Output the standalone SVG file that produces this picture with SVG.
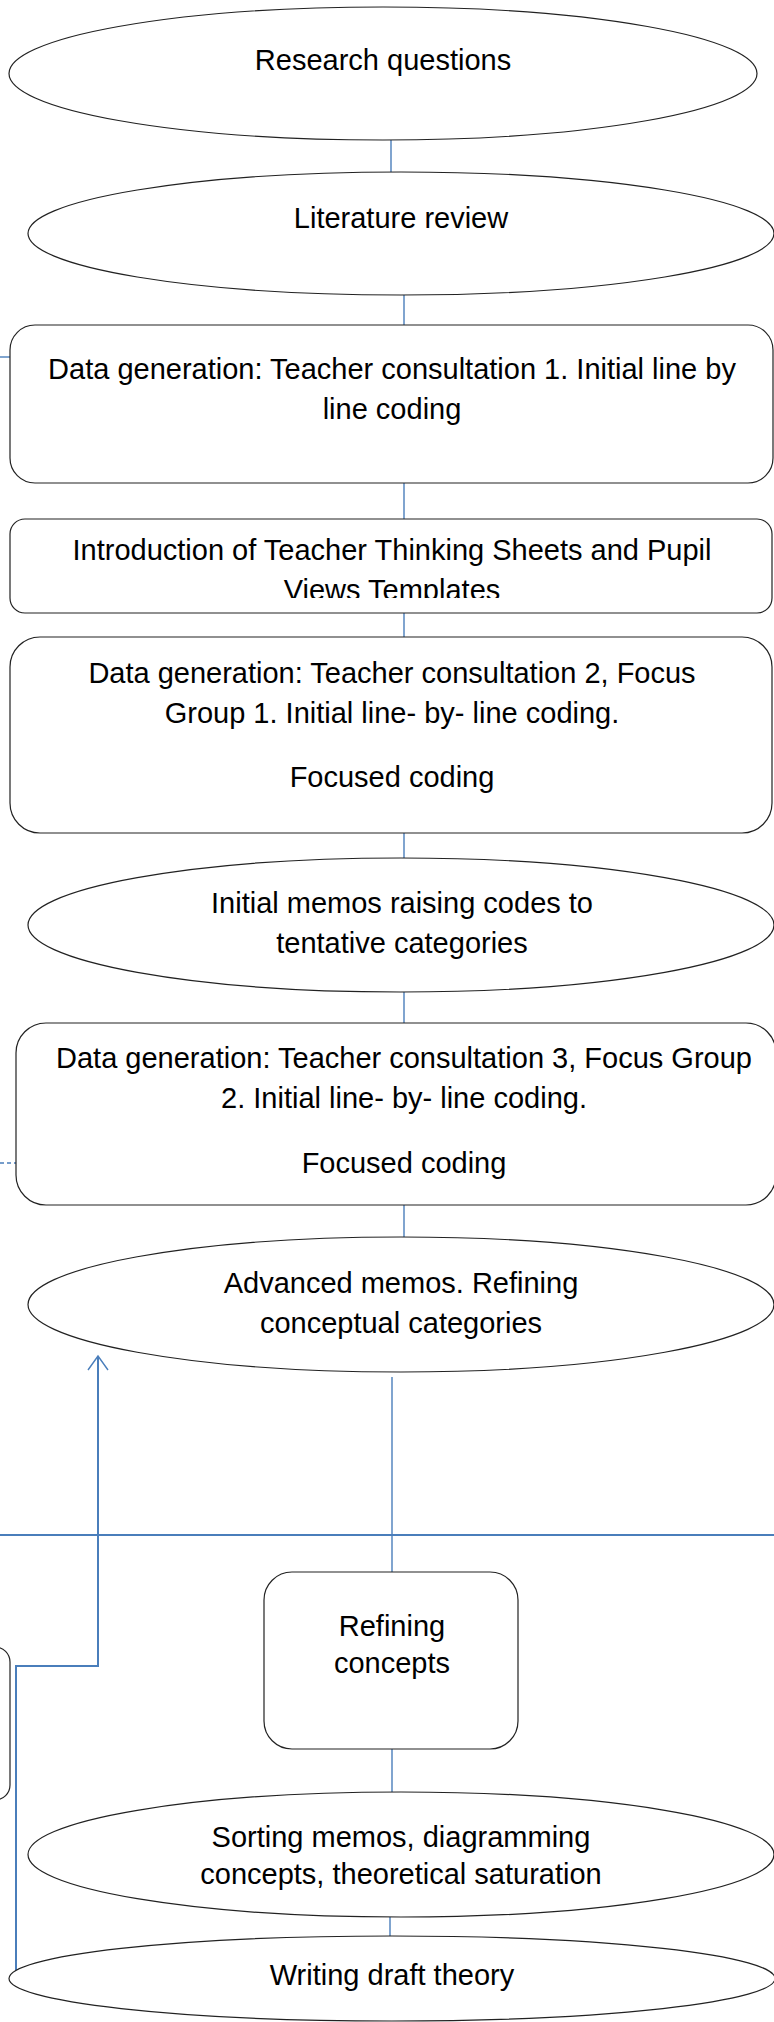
<svg xmlns="http://www.w3.org/2000/svg" width="774" height="2022" viewBox="0 0 774 2022">
<style>
.s{fill:#fff;stroke:#222;stroke-width:1.2}
.t{font-family:"Liberation Sans",Arial,sans-serif;font-size:29px;fill:#000;text-anchor:middle}
.c{fill:none;stroke:#4A7EBB;stroke-width:1.4}
.c2{fill:none;stroke:#4A7EBB;stroke-width:2}
</style>
<defs>
<marker id="open" viewBox="0 0 24 16" refX="12" refY="1" markerWidth="24" markerHeight="16" markerUnits="userSpaceOnUse" orient="0" overflow="visible">
<path d="M2,15 L12,1 L22,15" fill="none" stroke="#4A7EBB" stroke-width="1.4"/>
</marker>
<clipPath id="clipB2"><rect x="10" y="519" width="762" height="79"/></clipPath>
</defs>
<g id="connectors">
<line class="c" x1="391" y1="140" x2="391" y2="172"/>
<line class="c" x1="404" y1="295" x2="404" y2="325"/>
<line class="c" x1="0" y1="357" x2="10" y2="357"/>
<line class="c" x1="404" y1="483" x2="404" y2="519"/>
<line class="c" x1="404" y1="613" x2="404" y2="637"/>
<line class="c" x1="404" y1="833" x2="404" y2="858"/>
<line class="c" x1="404" y1="992" x2="404" y2="1023"/>
<line class="c" x1="0" y1="1163" x2="16" y2="1163" stroke-dasharray="4,3"/>
<line class="c" x1="404" y1="1205" x2="404" y2="1237"/>
<line class="c" x1="392" y1="1377" x2="392" y2="1572"/>
<line class="c2" x1="0" y1="1535" x2="774" y2="1535"/>
<path class="c2" d="M16,1978 L16,1666 L98,1666 L98,1356" marker-end="url(#open)"/>
<line class="c" x1="392" y1="1749" x2="392" y2="1792"/>
<line class="c" x1="390" y1="1917" x2="390" y2="1936"/>
</g>
<g id="n1"><ellipse class="s" cx="383" cy="73.5" rx="374" ry="66.5"/><text class="t" x="383" y="70">Research questions</text></g>
<g id="n2"><ellipse class="s" cx="401" cy="233.5" rx="373" ry="61.5"/><text class="t" x="401" y="228">Literature review</text></g>
<g id="n3"><rect class="s" x="10" y="325" width="763" height="158" rx="25" ry="25"/><text class="t" x="392" y="379">Data generation: Teacher consultation 1. Initial line by</text><text class="t" x="392" y="419">line coding</text></g>
<g id="n4"><rect class="s" x="10" y="519" width="762" height="94" rx="15" ry="15"/><g clip-path="url(#clipB2)"><text class="t" x="392" y="560">Introduction of Teacher Thinking Sheets and Pupil</text><text class="t" x="392" y="600">Views Templates</text></g></g>
<g id="n5"><rect class="s" x="10" y="637" width="762" height="196" rx="30" ry="30"/><text class="t" x="392" y="683">Data generation: Teacher consultation 2, Focus</text><text class="t" x="392" y="723">Group 1. Initial line- by- line coding.</text><text class="t" x="392" y="787">Focused coding</text></g>
<g id="n6"><ellipse class="s" cx="401" cy="925" rx="373" ry="67"/><text class="t" x="402" y="913">Initial memos raising codes to</text><text class="t" x="402" y="953">tentative categories</text></g>
<g id="n7"><rect class="s" x="16" y="1023" width="760" height="182" rx="30" ry="30"/><text class="t" x="404" y="1068">Data generation: Teacher consultation 3, Focus Group</text><text class="t" x="404" y="1108">2. Initial line- by- line coding.</text><text class="t" x="404" y="1173">Focused coding</text></g>
<g id="n8"><ellipse class="s" cx="401" cy="1304.5" rx="373" ry="67.5"/><text class="t" x="401" y="1293">Advanced memos. Refining</text><text class="t" x="401" y="1333">conceptual categories</text></g>
<g id="n9"><rect class="s" x="264" y="1572" width="254" height="177" rx="28" ry="28"/><text class="t" x="392" y="1636">Refining</text><text class="t" x="392" y="1673">concepts</text></g>
<g id="n10"><rect class="s" x="-60" y="1647" width="70" height="153" rx="15" ry="15"/></g>
<g id="n11"><ellipse class="s" cx="401" cy="1854.5" rx="373" ry="62.5"/><text class="t" x="401" y="1847">Sorting memos, diagramming</text><text class="t" x="401" y="1884">concepts, theoretical saturation</text></g>
<g id="n12"><ellipse class="s" cx="392" cy="1978.5" rx="383" ry="42.5"/><text class="t" x="392" y="1985">Writing draft theory</text></g>
</svg>
